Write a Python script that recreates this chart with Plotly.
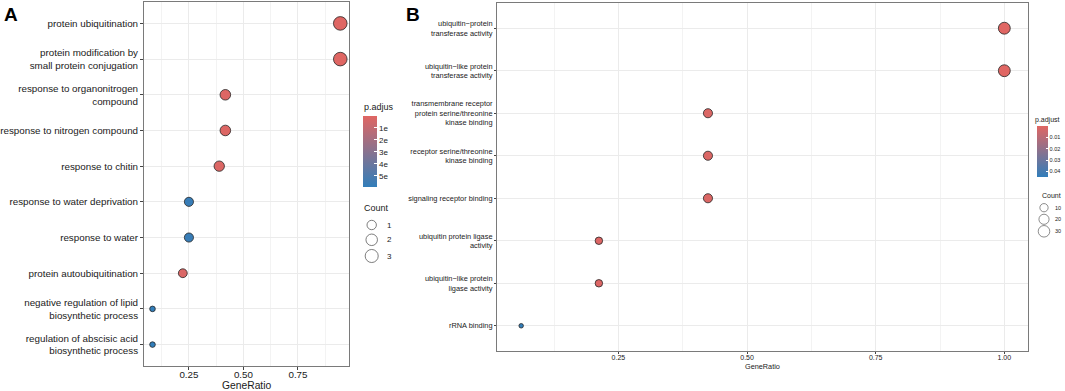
import numpy as np
import plotly.graph_objects as go

W, H = 1065, 391
FONT = "Liberation Sans"
TXT = "#1a1a1a"
RED, BLUE = "#e06663", "#327eba"

# ---------------- Panel A data ----------------
a_terms = [
    "protein ubiquitination",
    "protein modification by<br>small protein conjugation",
    "response to organonitrogen<br>compound",
    "response to nitrogen compound",
    "response to chitin",
    "response to water deprivation",
    "response to water",
    "protein autoubiquitination",
    "negative regulation of lipid<br>biosynthetic process",
    "regulation of abscisic acid<br>biosynthetic process",
]
a_ratio = [0.944, 0.944, 0.417, 0.417, 0.389, 0.250, 0.250, 0.222, 0.083, 0.083]
a_count = [34, 34, 15, 15, 14, 9, 9, 8, 3, 3]
a_padj = [2.0e-6, 2.0e-6, 1.0e-5, 1.0e-5, 1.4e-5, 5.7e-4, 5.7e-4, 2.0e-5, 5.9e-4, 5.9e-4]
a_xticks = [0.25, 0.50, 0.75]
a_xticktext = ["0.25", "0.50", "0.75"]
a_xminor = [0.125, 0.375, 0.625, 0.875]
a_cbar_vals = [1e-4, 2e-4, 3e-4, 4e-4, 5e-4]
a_cbar_text = ["1e", "2e", "3e", "4e", "5e"]
a_size_vals = [10, 20, 30]
a_size_text = ["1", "2", "3"]

# ---------------- Panel B data ----------------
b_terms = [
    "ubiquitin\u2212protein<br>transferase activity",
    "ubiquitin\u2212like protein<br>transferase activity",
    "transmembrane receptor<br>protein serine/threonine<br>kinase binding",
    "receptor serine/threonine<br>kinase binding",
    "signaling receptor binding",
    "ubiquitin protein ligase<br>activity",
    "ubiquitin\u2212like protein<br>ligase activity",
    "rRNA binding",
]
b_ratio = [1.000, 1.000, 0.424, 0.424, 0.424, 0.212, 0.212, 0.061]
b_count = [33, 33, 14, 14, 14, 7, 7, 2]
b_padj = [1.0e-4, 1.0e-4, 1.2e-3, 1.2e-3, 1.2e-3, 8.0e-4, 8.0e-4, 0.045]
b_xticks = [0.25, 0.50, 0.75, 1.00]
b_xticktext = ["0.25", "0.50", "0.75", "1.00"]
b_xminor = [0.125, 0.375, 0.625, 0.875]
b_cbar_vals = [0.01, 0.02, 0.03, 0.04]
b_cbar_text = ["0.01", "0.02", "0.03", "0.04"]
b_size_vals = [10, 20, 30]
b_size_text = ["10", "20", "30"]


def size_scale(counts, lo, hi, dmin, dspan):
    c = np.asarray(counts, dtype=float)
    return dmin + dspan * np.sqrt(np.clip((c - lo) / (hi - lo), 0, 1))


a_lo, a_hi = min(a_count), max(a_count)
b_lo, b_hi = min(b_count), max(b_count)

fig = go.Figure()

MLINE = dict(color="#262626", width=0.8)

fig.add_trace(go.Scatter(
    x=a_ratio, y=a_terms, mode="markers", xaxis="x", yaxis="y",
    marker=dict(size=size_scale(a_count, a_lo, a_hi, 5.6, 8.0), opacity=1,
                color=[-p for p in a_padj], coloraxis="coloraxis", line=MLINE),
    showlegend=False, hoverinfo="skip"))

fig.add_trace(go.Scatter(
    x=b_ratio, y=b_terms, mode="markers", xaxis="x2", yaxis="y2",
    marker=dict(size=size_scale(b_count, b_lo, b_hi, 4.5, 7.4), opacity=1,
                color=[-p for p in b_padj], coloraxis="coloraxis2", line=MLINE),
    showlegend=False, hoverinfo="skip"))

# size legends (on pixel-unit helper axes)
a_leg_y = [225, 239.8, 256]
fig.add_trace(go.Scatter(
    x=[371.7] * 3, y=a_leg_y, mode="markers", xaxis="x3", yaxis="y3",
    marker=dict(size=size_scale(a_size_vals, a_lo, a_hi, 5.6, 8.0), color="white",
                line=dict(color="#1a1a1a", width=0.8)),
    showlegend=False, hoverinfo="skip"))
b_leg_y = [207.7, 219.3, 231.3]
fig.add_trace(go.Scatter(
    x=[1044] * 3, y=b_leg_y, mode="markers", xaxis="x4", yaxis="y4",
    marker=dict(size=size_scale(b_size_vals, b_lo, b_hi, 4.5, 7.4), color="white",
                line=dict(color="#1a1a1a", width=0.7)),
    showlegend=False, hoverinfo="skip"))


def xax(domain, rng, ticks, ttext, minor, fsize, tlen, anchor, standoff):
    return dict(domain=domain, range=rng, anchor=anchor, tickmode="array", tickvals=ticks, ticktext=ttext,
                ticks="outside", ticklen=tlen, tickcolor="#444", tickwidth=0.8,
                ticklabelstandoff=standoff,
                tickfont=dict(family=FONT, size=fsize, color=TXT),
                showgrid=True, gridcolor="#ebebeb", gridwidth=1,
                minor=dict(tickvals=minor, showgrid=True, gridcolor="#f3f3f3", gridwidth=0.6, ticks=""),
                showline=True, mirror=True, linecolor="#7a7a7a", linewidth=1,
                zeroline=False, automargin=False, fixedrange=True)


def yax(domain, terms, fsize, tlen, anchor):
    n = len(terms)
    return dict(domain=domain, type="category", categoryorder="array", categoryarray=terms,
                range=[n - 1 + 0.6, -0.6], anchor=anchor,
                ticks="outside", ticklen=tlen, tickcolor="#444", tickwidth=0.8,
                tickfont=dict(family=FONT, size=fsize, color=TXT),
                showgrid=True, gridcolor="#ebebeb", gridwidth=1,
                showline=True, mirror=True, linecolor="#7a7a7a", linewidth=1,
                zeroline=False, automargin=False, fixedrange=True)


def px(v):
    return v / W


def py(v):
    return 1 - v / H


layout = dict(
    width=W, height=H, margin=dict(l=0, r=0, t=0, b=0),
    paper_bgcolor="white", plot_bgcolor="white",
    xaxis=xax([px(144), px(349)], [0.044, 0.984], a_xticks, a_xticktext, a_xminor, 9.8, 3, "y", -4),
    yaxis=yax([py(366), py(2)], a_terms, 9.8, 3, "x"),
    xaxis2=xax([px(497), px(1028)], [0.014, 1.046], b_xticks, b_xticktext, b_xminor, 7, 2, "y2", -3),
    yaxis2=yax([py(351.3), py(2.7)], b_terms, 7.4, 2, "x2"),
    xaxis3=dict(domain=[px(355), px(392)], range=[355, 392], visible=False, anchor="y3", fixedrange=True),
    yaxis3=dict(domain=[py(270), py(195)], range=[270, 195], visible=False, anchor="x3", fixedrange=True),
    xaxis4=dict(domain=[px(1030), px(1064)], range=[1030, 1064], visible=False, anchor="y4", fixedrange=True),
    yaxis4=dict(domain=[py(242), py(190)], range=[242, 190], visible=False, anchor="x4", fixedrange=True),
    coloraxis=dict(
        colorscale=[[0, BLUE], [1, RED]], cmin=-max(a_padj), cmax=-0.0,
        colorbar=dict(x=px(362.7), xanchor="left", y=py(115.7), yanchor="top",
                      len=71, lenmode="pixels", thickness=14, thicknessmode="pixels",
                      xpad=0, ypad=0, outlinewidth=0, borderwidth=0,
                      tickmode="array", tickvals=[-v for v in a_cbar_vals], ticktext=a_cbar_text,
                      ticks="inside", ticklen=3, tickcolor="white", tickwidth=1,
                      tickfont=dict(family=FONT, size=8, color=TXT))),
    coloraxis2=dict(
        colorscale=[[0, BLUE], [1, RED]], cmin=-max(b_padj), cmax=-0.0,
        colorbar=dict(x=px(1037), xanchor="left", y=py(126), yanchor="top",
                      len=51, lenmode="pixels", thickness=11, thicknessmode="pixels",
                      xpad=0, ypad=0, outlinewidth=0, borderwidth=0,
                      tickmode="array", tickvals=[-v for v in b_cbar_vals], ticktext=b_cbar_text,
                      ticks="inside", ticklen=2, tickcolor="white", tickwidth=1,
                      tickfont=dict(family=FONT, size=5.5, color=TXT))),
)

ann = []


def text(x, y, s, size, xanchor="left", bold=False):
    ann.append(dict(x=px(x), y=py(y), xref="paper", yref="paper", text=(f"<b>{s}</b>" if bold else s),
                    showarrow=False, xanchor=xanchor, yanchor="middle",
                    font=dict(family=FONT, size=size, color="black" if bold else TXT)))


text(2, 15, "A", 19, bold=True)
text(404, 15, "B", 19, bold=True)
text(246.5, 385, "GeneRatio", 10.3, "center")
text(762.5, 366, "GeneRatio", 7.3, "center")
text(362, 107, "p.adjus", 9)
text(362, 208, "Count", 9)
for yv, s in zip(a_leg_y, a_size_text):
    text(384.5, yv, s, 8)
text(1033, 120.3, "p.adjust", 7)
text(1039.5, 195, "Count", 7)
for yv, s in zip(b_leg_y, b_size_text):
    text(1052.5, yv, s, 5.5)

layout["annotations"] = ann
fig.update_layout(**layout)
fig.write_html("out.html", config={"displayModeBar": False},
               post_script="document.body.style.margin='0px';")
